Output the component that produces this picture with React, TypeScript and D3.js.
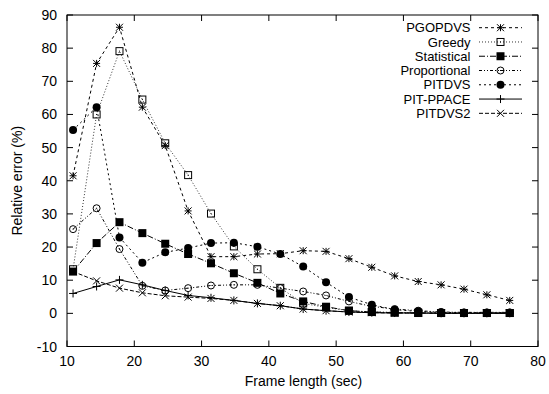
import React from "react";
import * as d3 from "d3";

const frameLength = [10.9, 14.4, 17.8, 21.2, 24.6, 28.0, 31.4, 34.8, 38.3, 41.7, 45.1, 48.5, 51.9, 55.3, 58.7, 62.2, 65.6, 69.0, 72.4, 75.8];

const pgopdvs = [41.5, 75.4, 86.3, 62.2, 50.6, 30.9, 17.1, 17.1, 17.9, 18.0, 18.9, 18.7, 16.5, 13.9, 11.3, 9.6, 8.6, 7.3, 5.6, 3.9];
const greedy = [13.3, 60.0, 79.1, 64.5, 51.3, 41.7, 30.1, 20.2, 13.3, 7.7, 3.0, 1.8, 0.8, 0.4, 0.3, 0.2, 0.1, 0.1, 0.1, 0.1];
const statistical = [12.6, 21.2, 27.5, 24.2, 21.0, 17.9, 15.1, 12.1, 9.2, 6.0, 3.6, 2.0, 0.8, 0.4, 0.2, 0.1, 0.1, 0.1, 0.1, 0.1];
const proportional = [25.4, 31.7, 19.4, 8.3, 6.9, 7.6, 8.4, 8.6, 8.6, 7.6, 6.6, 5.4, 3.6, 2.1, 1.3, 0.8, 0.4, 0.3, 0.3, 0.3];
const pitdvs = [55.3, 62.2, 22.9, 15.3, 18.4, 19.7, 21.2, 21.3, 20.1, 17.9, 14.1, 9.4, 4.9, 2.6, 1.1, 0.6, 0.3, 0.2, 0.2, 0.2];
const pitPpace = [6.0, 8.1, 10.1, 8.6, 6.9, 5.4, 4.7, 3.9, 3.0, 2.3, 1.3, 0.8, 0.4, 0.2, 0.1, 0.1, 0.0, 0.0, 0.0, 0.0];
const pitdvs2 = [12.6, 9.8, 7.6, 6.2, 5.3, 4.9, 4.5, 3.9, 3.0, 2.3, 1.3, 0.8, 0.4, 0.2, 0.1, 0.1, 0.0, 0.0, 0.0, 0.0];

const seriesNames = ["PGOPDVS", "Greedy", "Statistical", "Proportional", "PITDVS", "PIT-PPACE", "PITDVS2"];
const xTicks = [10, 20, 30, 40, 50, 60, 70, 80];
const yTicks = [-10, 0, 10, 20, 30, 40, 50, 60, 70, 80, 90];

const W = 549;
const H = 394;
const L = 67, R = 538, T = 15, B = 346.5;
const FONT = "'Liberation Sans', Arial, Helvetica, sans-serif";

type Style = { dash: string; marker: string; color: string };
const styles: Style[] = [
  { dash: "3,3", marker: "star", color: "#000" },
  { dash: "1,2", marker: "square", color: "#333" },
  { dash: "6,2,1,2", marker: "fsquare", color: "#000" },
  { dash: "3,2,1,2,1,2", marker: "circle", color: "#000" },
  { dash: "2,3", marker: "fcircle", color: "#000" },
  { dash: "", marker: "plus", color: "#000" },
  { dash: "4,2", marker: "cross", color: "#000" },
];

function Marker({ type, x, y }: { type: string; x: number; y: number }) {
  const s = 3.5;
  switch (type) {
    case "star":
      return (
        <g stroke="#000" strokeWidth={1}>
          <line x1={x - s} y1={y} x2={x + s} y2={y} />
          <line x1={x} y1={y - s} x2={x} y2={y + s} />
          <line x1={x - s} y1={y - s} x2={x + s} y2={y + s} />
          <line x1={x - s} y1={y + s} x2={x + s} y2={y - s} />
        </g>
      );
    case "square":
      return (
        <g>
          <rect x={x - s} y={y - s} width={2 * s} height={2 * s} fill="none" stroke="#000" strokeWidth={1} />
          <rect x={x - 0.5} y={y - 0.5} width={1} height={1} fill="#000" />
        </g>
      );
    case "fsquare":
      return <rect x={x - 4} y={y - 4} width={8} height={8} fill="#000" />;
    case "circle":
      return (
        <g>
          <circle cx={x} cy={y} r={s} fill="none" stroke="#000" strokeWidth={1} />
          <rect x={x - 0.5} y={y - 0.5} width={1} height={1} fill="#000" />
        </g>
      );
    case "fcircle":
      return <circle cx={x} cy={y} r={4} fill="#000" />;
    case "plus":
      return (
        <g stroke="#000" strokeWidth={1}>
          <line x1={x - 4} y1={y} x2={x + 4} y2={y} />
          <line x1={x} y1={y - 4} x2={x} y2={y + 4} />
        </g>
      );
    case "cross":
      return (
        <g stroke="#000" strokeWidth={1}>
          <line x1={x - s} y1={y - s} x2={x + s} y2={y + s} />
          <line x1={x - s} y1={y + s} x2={x + s} y2={y - s} />
        </g>
      );
  }
  return null;
}

export default function App() {
  const x = d3.scaleLinear().domain([10, 80]).range([L, R]);
  const y = d3.scaleLinear().domain([-10, 90]).range([B, T]);
  const allSeries = [pgopdvs, greedy, statistical, proportional, pitdvs, pitPpace, pitdvs2];
  const line = d3
    .line<number>()
    .x((_, i) => x(frameLength[i]))
    .y((d) => y(d));
  const tickLen = 6;
  const legY = (i: number) => 27.7 + 14.27 * i;

  return (
    <svg width={W} height={H} style={{ position: "absolute", left: 0, top: 0, background: "#fff" }} fontFamily={FONT}>
      <rect x={0} y={0} width={W} height={H} fill="#fff" />
      {/* ticks */}
      <g stroke="#000" strokeWidth={1}>
        {xTicks.map((t) => (
          <g key={"xt" + t}>
            <line x1={x(t)} y1={B} x2={x(t)} y2={B - tickLen} />
            <line x1={x(t)} y1={T} x2={x(t)} y2={T + tickLen} />
          </g>
        ))}
        {yTicks.map((t) => (
          <g key={"yt" + t}>
            <line x1={L} y1={y(t)} x2={L + tickLen} y2={y(t)} />
            <line x1={R} y1={y(t)} x2={R - tickLen} y2={y(t)} />
          </g>
        ))}
      </g>
      <g fontSize={14} fill="#000">
        {xTicks.map((t) => (
          <text key={"xl" + t} x={x(t)} y={366} textAnchor="middle">
            {t}
          </text>
        ))}
        {yTicks.map((t) => (
          <text key={"yl" + t} x={57} y={y(t) + 5} textAnchor="end">
            {t}
          </text>
        ))}
      </g>
      <text x={(L + R) / 2 + 1} y={386} textAnchor="middle" fontSize={14}>
        Frame length (sec)
      </text>
      <text transform={`translate(22,${(T + B) / 2}) rotate(-90)`} textAnchor="middle" fontSize={14}>
        Relative error (%)
      </text>
      {/* series */}
      {allSeries.map((vals, si) => (
        <g key={"s" + si}>
          <path d={line(vals) || ""} fill="none" stroke={styles[si].color} strokeWidth={1} strokeDasharray={styles[si].dash || undefined} />
          {vals.map((v, i) => (
            <Marker key={i} type={styles[si].marker} x={x(frameLength[i])} y={y(v)} />
          ))}
        </g>
      ))}
      {/* legend */}
      {seriesNames.map((name, i) => (
        <g key={"lg" + i}>
          <text x={470.5} y={legY(i) + 4.6} textAnchor="end" fontSize={13}>
            {name}
          </text>
          <line x1={479} y1={legY(i)} x2={522} y2={legY(i)} stroke={styles[i].color} strokeWidth={1} strokeDasharray={styles[i].dash || undefined} />
          <Marker type={styles[i].marker} x={500.5} y={legY(i)} />
        </g>
      ))}
      {/* frame */}
      <rect x={L} y={T} width={R - L} height={B - T} fill="none" stroke="#000" strokeWidth={1} />
    </svg>
  );
}
